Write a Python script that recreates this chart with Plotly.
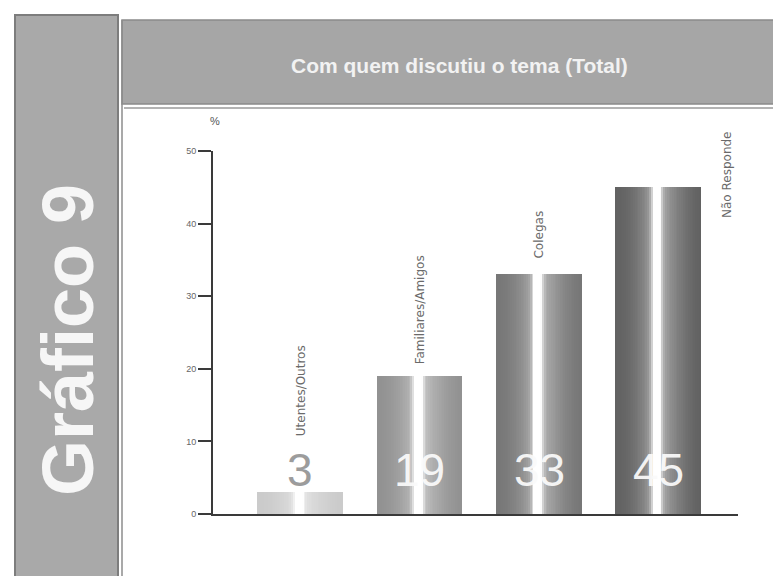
import numpy as np
import plotly.graph_objects as go

# Survey answers: who the topic was discussed with (Total, %)
categories = ["Utentes/Outros", "Familiares/Amigos", "Colegas", "Não Responde"]
values = [3, 19, 33, 45]
y_ticks = [0, 10, 20, 30, 40, 50]

title_text = "Com quem discutiu o tema (Total)"
side_text = "Gráfico 9"

# Base grey level (edge tone) of each cylinder-shaded bar
base_grey = [200, 140, 112, 90]

# Layout geometry in pixels
W, H = 773, 576
PL, PR, PT, PB = 213, 738, 151, 514


def px_x(px):
    return (px - PL) / (PR - PL)


def px_y(py):
    return (PB - py) / (PB - PT)


def shade(t):
    """Cylinder shading: 0 = edge tone, 1 = white highlight."""
    if t < 0.49:
        ramp = 0.05 + 0.45 * (t / 0.49) ** 2
    else:
        ramp = 0.05 + 0.5 * ((1 - t) / 0.51) ** 1.6
    return min(1.0, ramp + np.exp(-((t - 0.485) / 0.055) ** 2))


fig = go.Figure()

xs = list(range(len(categories)))
bar_w = 0.714
n_slices = 48
slice_w = bar_w / n_slices
for i in range(n_slices):
    t = (i + 0.5) / n_slices
    h = shade(t)
    cols = []
    for b in base_grey:
        g = int(round(b + (255 - b) * h))
        cols.append(f"rgb({g},{g},{g})")
    fig.add_trace(go.Bar(
        x=xs, y=values,
        width=slice_w * 1.05,
        offset=-bar_w / 2 + i * slice_w,
        marker=dict(color=cols, line=dict(width=0)),
        hoverinfo="skip",
        showlegend=False,
    ))

annotations = []

# Big value numbers near the foot of each bar
for xi, v in zip(xs, values):
    annotations.append(dict(
        x=xi, y=0, xref="x", yref="y",
        text=str(v), showarrow=False,
        xanchor="center", yanchor="middle", yshift=44,
        font=dict(family="Liberation Sans, Arial", size=46,
                  color="#9c9c9c" if v < 8 else "rgba(250,250,250,0.95)"),
    ))

# Rotated category names above the bars
label_shift = [54, 10, 14]
for xi, v, name, sh in zip(xs[:3], values[:3], categories[:3], label_shift):
    annotations.append(dict(
        x=xi, y=v, xref="x", yref="y",
        text=name, showarrow=False, textangle=-90,
        xanchor="center", yanchor="bottom", yshift=sh,
        font=dict(family="DejaVu Sans", size=12, color="#6a6a6a"),
    ))
annotations.append(dict(
    x=px_x(727), y=px_y(130), xref="paper", yref="paper",
    text=categories[3], showarrow=False, textangle=-90,
    xanchor="center", yanchor="top",
    font=dict(family="DejaVu Sans", size=12, color="#6a6a6a"),
))

# Unit label above the value axis
annotations.append(dict(
    x=px_x(215), y=px_y(121), xref="paper", yref="paper",
    text="%", showarrow=False, xanchor="center", yanchor="middle",
    font=dict(family="Liberation Sans, Arial", size=11, color="#555555"),
))

# Header title
annotations.append(dict(
    x=px_x(459), y=px_y(65), xref="paper", yref="paper",
    text="<b>" + title_text + "</b>", showarrow=False,
    xanchor="center", yanchor="middle",
    font=dict(family="Liberation Sans, Arial", size=21, color="#f2f2f2"),
))

# Side tab caption
annotations.append(dict(
    x=px_x(68), y=px_y(340), xref="paper", yref="paper",
    text="<b>" + side_text + "</b>", showarrow=False, textangle=-90,
    xanchor="center", yanchor="middle",
    font=dict(family="Liberation Sans, Arial", size=72, color="#f6f6f6"),
))

shapes = [
    # side tab
    dict(type="rect", xref="paper", yref="paper", layer="below",
         x0=px_x(15), x1=px_x(118), y0=px_y(15), y1=px_y(590),
         fillcolor="#a9a9a9", line=dict(color="#7d7d7d", width=2)),
    # header band
    dict(type="rect", xref="paper", yref="paper", layer="below",
         x0=px_x(122), x1=px_x(780), y0=px_y(20), y1=px_y(104),
         fillcolor="#a6a6a6", line=dict(color="#8a8a8a", width=1.5)),
    # frame rule below the header
    dict(type="line", xref="paper", yref="paper", layer="below",
         x0=px_x(124), x1=px_x(773), y0=px_y(108), y1=px_y(108),
         line=dict(color="#9a9a9a", width=1.5)),
    # frame rule on the left of the chart panel
    dict(type="line", xref="paper", yref="paper", layer="below",
         x0=px_x(122), x1=px_x(122), y0=px_y(20), y1=px_y(590),
         line=dict(color="#8c8c8c", width=1.5)),
]

fig.update_layout(
    width=W, height=H,
    margin=dict(l=PL, r=W - PR, t=PT, b=H - PB),
    paper_bgcolor="white", plot_bgcolor="white",
    barmode="overlay", bargap=0,
    annotations=annotations, shapes=shapes,
    xaxis=dict(range=[-0.733, 3.667], showgrid=False, zeroline=False,
               showticklabels=False, ticks="",
               showline=True, linecolor="#3a3a3a", linewidth=2),
    yaxis=dict(range=[0, 50], tickvals=y_ticks, showgrid=False, zeroline=False,
               showline=True, linecolor="#3a3a3a", linewidth=2,
               ticks="outside", ticklen=13, tickwidth=2, tickcolor="#3a3a3a",
               tickfont=dict(family="Liberation Sans, Arial", size=9, color="#666666")),
    font=dict(family="Liberation Sans, Arial"),
)

fig.write_html("out.html")
